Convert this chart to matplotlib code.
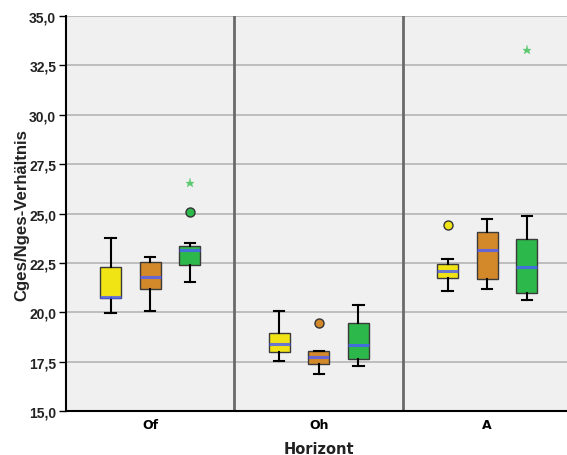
import matplotlib
matplotlib.use("Agg")
import matplotlib.pyplot as plt
from matplotlib.ticker import FuncFormatter

# ---- data ----
horizons = ["Of", "Oh", "A"]
series_colors = ["#F0E414", "#D3892A", "#2DB84B"]

# per horizon: list of three boxes (yellow, orange, green): (whislo, q1, med, q3, whishi)
stats_Of = [(19.95, 20.70, 20.77, 22.29, 23.76),
            (20.08, 21.18, 21.77, 22.53, 22.81),
            (21.53, 22.41, 23.17, 23.34, 23.51)]
stats_Oh = [(17.53, 18.00, 18.41, 18.95, 20.06),
            (16.86, 17.36, 17.73, 18.04, 18.04),
            (17.26, 17.65, 18.33, 19.46, 20.37)]
stats_A = [(21.09, 21.72, 22.07, 22.44, 22.70),
           (21.16, 21.68, 23.15, 24.05, 24.70),
           (20.64, 20.99, 22.29, 23.73, 24.87)]

# outliers: (horizon index, series index, value)
circle_outliers = [(0, 2, 25.09), (1, 1, 19.46), (2, 0, 24.42)]
star_outliers = [(0, 2, 26.53), (2, 2, 33.28)]

y_ticks = [15.0, 17.5, 20.0, 22.5, 25.0, 27.5, 30.0, 32.5, 35.0]

all_stats = [stats_Of, stats_Oh, stats_A]
offsets = [-0.235, 0.0, 0.235]
box_w = 0.123

fig = plt.figure(figsize=(5.67, 4.56), dpi=100)
ax = fig.add_axes([0.1164, 0.0965, 0.8915, 0.8662])
ax.set_facecolor("#F0F0F0")

for gi, group in enumerate(all_stats):
    for si, (wlo, q1, med, q3, whi) in enumerate(group):
        pos = gi + offsets[si]
        st = dict(whislo=wlo, q1=q1, med=med, q3=q3, whishi=whi, fliers=[])
        ax.bxp([st], positions=[pos], widths=box_w, patch_artist=True,
               showfliers=False, capwidths=box_w * 0.5,
               boxprops=dict(facecolor=series_colors[si], edgecolor="#3A3A3A", linewidth=1.0),
               medianprops=dict(color="#4A5CFF", linewidth=2.2, alpha=0.8),
               whiskerprops=dict(color="black", linewidth=1.5),
               capprops=dict(color="black", linewidth=1.5),
               zorder=3)

for gi, si, v in circle_outliers:
    ax.plot(gi + offsets[si], v, marker="o", markersize=6.5, color=series_colors[si],
            markeredgecolor="#333333", markeredgewidth=1.0, zorder=4, linestyle="none")
for gi, si, v in star_outliers:
    ax.plot(gi + offsets[si], v, marker="*", markersize=6.5, color="#5CC870",
            markeredgecolor="#5CC870", markeredgewidth=0.2, zorder=4, linestyle="none")

ax.set_xlim(-0.5, 2.5)
ax.set_ylim(15, 35)
ax.set_yticks(y_ticks)
ax.yaxis.set_major_formatter(FuncFormatter(lambda v, p: f"{v:.1f}".replace(".", ",")))
ax.grid(axis="y", color="#B4B4B4", linewidth=1.2, zorder=1)
ax.set_axisbelow(True)

for xb in [0.5, 1.5]:
    ax.axvline(xb, color="#6A6A6A", linewidth=2.0, zorder=2)

ax.set_xticks(range(len(horizons)))
ax.set_xticklabels(horizons, fontfamily="DejaVu Sans", fontweight="bold", fontsize=9)
ax.tick_params(axis="x", length=0, pad=5)
ax.tick_params(axis="y", direction="out", length=5, width=1, pad=2, labelsize=10)
for lab in ax.get_yticklabels():
    lab.set_fontfamily("Liberation Sans")
    lab.set_fontweight("bold")
    lab.set_color("#222222")

for s in ["top", "right"]:
    ax.spines[s].set_visible(False)
ax.spines["left"].set_linewidth(1.5)
ax.spines["bottom"].set_linewidth(1.5)

ax.set_ylabel("Cges/Nges-Verhältnis", fontfamily="Liberation Sans", fontweight="bold",
              fontsize=12.1, labelpad=0, color="#222222")
ax.set_xlabel("Horizont", fontfamily="DejaVu Sans", fontweight="bold", fontsize=10.5,
              labelpad=7, color="#222222")

fig.savefig("out.png", dpi=100, facecolor="white")
